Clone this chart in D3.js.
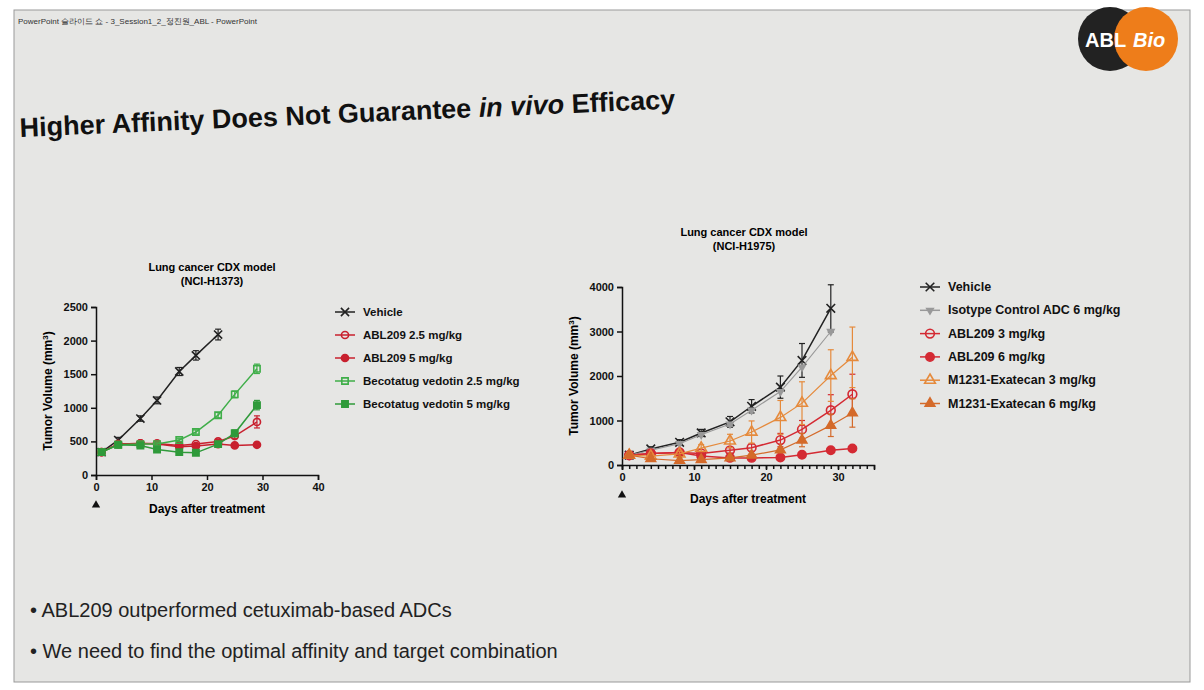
<!DOCTYPE html>
<html>
<head>
<style>
body{margin:0;background:#fff;font-family:"Liberation Sans",Arial,sans-serif;}
</style>
</head>
<body>
<script src="https://d3js.org/d3.v7.min.js"></script>
<script>
// left chart: NCI-H1373
const daysL = [1,4,8,11,15,18,22,25,29];
const vehL = [340,520,840,1110,1540,1780,2090];
const vehLErr = [30,40,40,50,60,70,80];
const abl25 = [340,460,470,470,440,460,500,580,790];
const abl5 = [340,460,470,460,420,430,460,440,450];
const beco25 = [340,450,460,460,520,640,890,1200,1580];
const beco5 = [340,450,440,380,340,330,460,620,1040];
const becoErr = [20,20,20,20,20,30,40,50,70];

// right chart: NCI-H1975
const daysR = [1,4,8,11,15,18,22,25,29,32];
const vehR = [220,360,510,720,970,1320,1750,2350,3520];
const vehRErr = [30,50,60,80,120,150,250,380,530];
const isoR = [220,330,480,680,920,1230,1650,2200,3000];
const abl3 = [220,260,280,260,330,390,560,800,1230,1590];
const abl3Err = [20,30,40,40,60,80,150,200,350,450];
const abl6 = [220,260,280,200,160,160,170,230,330,370];
const m3 = [220,200,250,380,540,740,1070,1390,2010,2420];
const m3Err = [20,40,60,80,150,250,380,480,580,680];
const m6 = [220,140,100,120,160,220,340,560,890,1170];

const svg = d3.select("body").append("svg").attr("width",1204).attr("height",690);
svg.append("rect").attr("width",1204).attr("height",690).attr("fill","#fff");
svg.append("rect").attr("x",14).attr("y",10).attr("width",1176).attr("height",672).attr("fill","#e6e6e4").attr("stroke","#999");

svg.append("text").attr("x",18).attr("y",24).attr("font-size",8).attr("fill","#333").text("PowerPoint 슬라이드 쇼 - 3_Session1_2_정진원_ABL - PowerPoint");
svg.append("circle").attr("cx",1110).attr("cy",39).attr("r",32).attr("fill","#222");
svg.append("circle").attr("cx",1146).attr("cy",39).attr("r",32).attr("fill","#ee7d1a");
svg.append("text").attr("x",1085).attr("y",47).attr("font-size",20).attr("font-weight","bold").attr("fill","#fff").text("ABL");
svg.append("text").attr("x",1133).attr("y",47).attr("font-size",20).attr("font-weight","bold").attr("font-style","italic").attr("fill","#fff").text("Bio");

const title = svg.append("text").attr("x",20).attr("y",137).attr("font-size",27).attr("font-weight","bold").attr("fill","#111")
  .attr("transform","rotate(-2.5,20,137)");
title.append("tspan").text("Higher Affinity Does Not Guarantee ");
title.append("tspan").attr("font-style","italic").text("in vivo");
title.append("tspan").text(" Efficacy");

const bul = ["ABL209 outperformed cetuximab-based ADCs","We need to find the optimal affinity and target combination"];
bul.forEach((t,i)=>{
  svg.append("text").attr("x",30).attr("y",617+i*41).attr("font-size",20).attr("fill","#222").text("•  "+t);
});

function chart(o){
  const x = d3.scaleLinear().domain(o.xd).range(o.xr);
  const y = d3.scaleLinear().domain(o.yd).range(o.yr);
  const g = svg.append("g").attr("font-weight","bold");
  g.append("g").attr("transform",`translate(0,${o.yr[0]})`)
    .call(d3.axisBottom(x).tickValues(o.xt).tickSize(5).tickFormat(d3.format("d")))
    .call(a=>a.selectAll("text").attr("font-size",11).attr("font-weight","bold").attr("fill","#111"));
  if(o.minor){
    g.append("g").attr("transform",`translate(0,${o.yr[0]})`)
      .call(d3.axisBottom(x).tickValues(d3.range(0,36)).tickSize(4).tickFormat(""))
      .call(a=>a.select(".domain").remove());
  }
  g.append("g").attr("transform",`translate(${o.xr[0]},0)`)
    .call(d3.axisLeft(y).tickValues(o.yt).tickSize(5).tickFormat(d3.format("d")))
    .call(a=>a.selectAll("text").attr("font-size",11).attr("font-weight","bold").attr("fill","#111"));
  g.selectAll(".domain,.tick line").attr("stroke","#111").attr("stroke-width",1.5);
  g.append("path").attr("d",d3.symbol(d3.symbolTriangle,30)()).attr("transform",`translate(${x(0)},${o.yr[0]+30})`).attr("fill","#111");
  g.append("text").attr("x",(o.xr[0]+o.xr[1])/2).attr("y",o.yr[0]+38).attr("text-anchor","middle").attr("font-size",12).text("Days after treatment");
  const ym=(o.yr[0]+o.yr[1])/2, yl=o.xr[0]-44;
  const yt=g.append("text").attr("transform",`translate(${yl},${ym}) rotate(-90)`).attr("text-anchor","middle").attr("font-size",12);
  yt.append("tspan").text("Tumor Volume (mm");
  yt.append("tspan").attr("baseline-shift","super").attr("font-size",8).text("3");
  yt.append("tspan").text(")");
  o.tt.forEach((t,i)=>g.append("text").attr("x",o.tx).attr("y",o.ty+i*14).attr("text-anchor","middle").attr("font-size",11).text(t));

  const line = d3.line().x(d=>x(d[0])).y(d=>y(d[1]));
  o.series.forEach((s,si)=>{
    const pts = s.v.map((v,i)=>[o.days[i],v]);
    if(s.err) pts.forEach((p,i)=>{
      const e=s.err[i]; if(!e) return;
      g.append("line").attr("x1",x(p[0])).attr("x2",x(p[0])).attr("y1",y(p[1]-e)).attr("y2",y(p[1]+e)).attr("stroke",s.c).attr("stroke-width",1.2);
      [p[1]-e,p[1]+e].forEach(q=>g.append("line").attr("x1",x(p[0])-3).attr("x2",x(p[0])+3).attr("y1",y(q)).attr("y2",y(q)).attr("stroke",s.c).attr("stroke-width",1.2));
    });
    g.append("path").attr("d",line(pts)).attr("fill","none").attr("stroke",s.c).attr("stroke-width",s.w||1.5);
    const sym = d3.symbol(s.sym, s.sz||40);
    const rot = s.down?" rotate(180)":"";
    g.selectAll(null).data(pts).join("path").attr("d",sym).attr("transform",d=>`translate(${x(d[0])},${y(d[1])})${rot}`)
      .attr("fill",s.open?"none":s.c).attr("stroke",s.c).attr("stroke-width",1.6);
    // legend
    const ly=o.ly+si*o.lstep;
    g.append("line").attr("x1",o.lx).attr("x2",o.lx+20).attr("y1",ly).attr("y2",ly).attr("stroke",s.c).attr("stroke-width",1.5);
    g.append("path").attr("d",sym).attr("transform",`translate(${o.lx+10},${ly})${rot}`).attr("fill",s.open?"none":s.c).attr("stroke",s.c).attr("stroke-width",1.6);
    g.append("text").attr("x",o.lx+28).attr("y",ly+4).attr("font-size",o.lfs).attr("fill","#111").text(s.n);
  });
}

chart({xd:[0,40],xr:[96,318],yd:[0,2500],yr:[475,307],xt:[0,10,20,30,40],yt:[0,500,1000,1500,2000,2500],
  days:daysL,tt:["Lung cancer CDX model","(NCI-H1373)"],tx:212,ty:271,lx:335,ly:312,lstep:23,lfs:11.5,
  series:[
    {n:"Vehicle",v:vehL,err:vehLErr,c:"#222",sym:d3.symbolTimes,sz:45},
    {n:"ABL209 2.5 mg/kg",v:abl25,c:"#c8202e",sym:d3.symbolCircle,open:true,err:[0,0,0,0,0,0,30,40,90]},
    {n:"ABL209 5 mg/kg",v:abl5,c:"#c8202e",sym:d3.symbolCircle},
    {n:"Becotatug vedotin 2.5 mg/kg",v:beco25,c:"#3fae49",sym:d3.symbolSquare,open:true,err:becoErr},
    {n:"Becotatug vedotin 5 mg/kg",v:beco5,c:"#2f9a3a",sym:d3.symbolSquare,err:becoErr}
  ]});

chart({xd:[0,35],xr:[622,874],yd:[0,4000],yr:[465,287],xt:[0,10,20,30],yt:[0,1000,2000,3000,4000],minor:true,
  days:daysR,tt:["Lung cancer CDX model","(NCI-H1975)"],tx:744,ty:236,lx:920,ly:287,lstep:23.3,lfs:12.5,
  series:[
    {n:"Vehicle",v:vehR,err:vehRErr,c:"#222",sym:d3.symbolTimes,sz:50},
    {n:"Isotype Control ADC 6 mg/kg",v:isoR,c:"#999",sym:d3.symbolTriangle,sz:18,w:1.1,down:true},
    {n:"ABL209 3 mg/kg",v:abl3,err:abl3Err,c:"#d42a33",sym:d3.symbolCircle,open:true,sz:60},
    {n:"ABL209 6 mg/kg",v:abl6,c:"#d42a33",sym:d3.symbolCircle,sz:55},
    {n:"M1231-Exatecan 3 mg/kg",v:m3,err:m3Err,c:"#e58a3c",sym:d3.symbolTriangle,open:true,sz:50,w:1.2},
    {n:"M1231-Exatecan 6 mg/kg",v:m6,err:[0,0,0,0,0,0,0,150,250,320],c:"#d46a2a",sym:d3.symbolTriangle,sz:40,w:1.2}
  ]});
</script>
</body>
</html>
